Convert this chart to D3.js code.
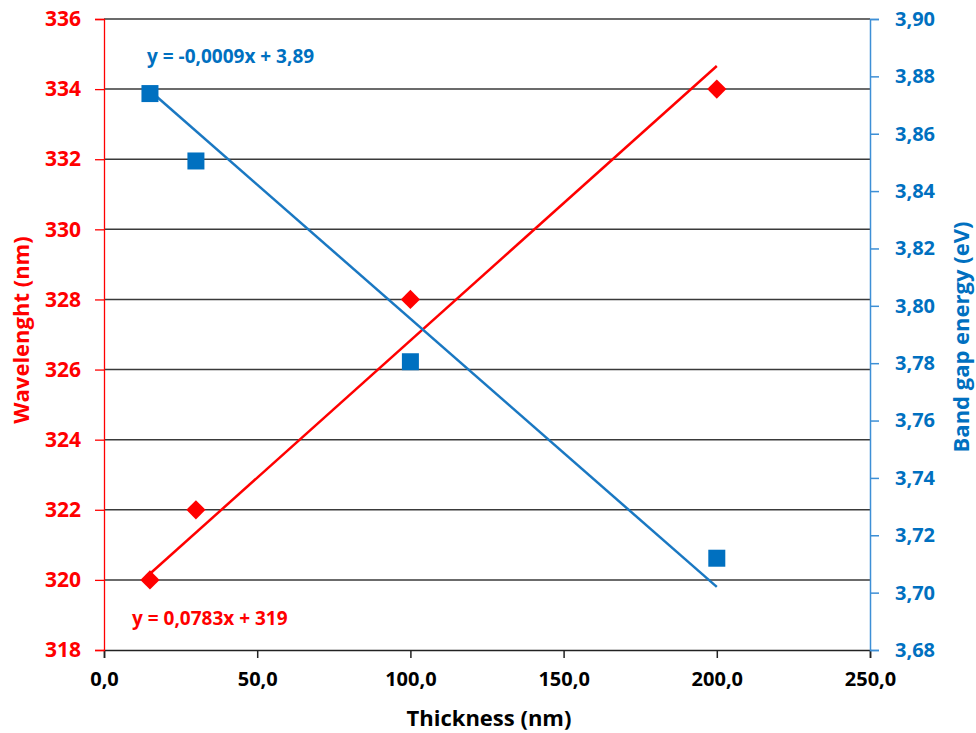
<!DOCTYPE html>
<html><head><meta charset="utf-8">
<script src="https://cdn.jsdelivr.net/npm/d3@7"></script>
<style>body{margin:0;background:#fff}svg{display:block}text{font-family:"Open Sans",sans-serif;font-weight:700}</style>
</head><body><svg id="c" width="976" height="733"></svg>
<script>
const thickness = [15, 30, 100, 200];
const wavelength = [320, 322, 328, 334];
const bandGap = [3.874, 3.8505, 3.7805, 3.712];
const waveTrend = {slope: 0.0783, intercept: 319};
const gapTrend = {slope: -0.000935, intercept: 3.889};
const xTicks = [0, 50, 100, 150, 200, 250];
const leftTicks = [318, 320, 322, 324, 326, 328, 330, 332, 334, 336];
const rightTicks = [3.68, 3.70, 3.72, 3.74, 3.76, 3.78, 3.80, 3.82, 3.84, 3.86, 3.88, 3.90];

const RED = "#FF0000", BLUE = "#0070C0";
const svg = d3.select("#c");
const L = 104, R = 870, T = 19, B = 650;
const x = d3.scaleLinear().domain([0, 250]).range([L, R]);
const yL = d3.scaleLinear().domain([318, 336]).range([B, T]);
const yR = d3.scaleLinear().domain([3.68, 3.90]).range([B, T]);
const fmt1 = d => d3.format(".1f")(d).replace(".", ",");
const fmt2 = d => d3.format(".2f")(d).replace(".", ",");

// gridlines
svg.append("g").selectAll("line").data(leftTicks.slice(1)).join("line")
  .attr("x1", L).attr("x2", R).attr("y1", d => yL(d)).attr("y2", d => yL(d))
  .attr("stroke", "#3a3a3a").attr("stroke-width", 1.5);

// x axis
const gx = svg.append("g").attr("transform", `translate(0,${B})`)
  .call(d3.axisBottom(x).tickValues(xTicks).tickFormat(fmt1).tickSizeOuter(0).tickSize(8).tickPadding(14));
gx.select(".domain").attr("stroke", "#222").attr("stroke-width", 1.5);
gx.selectAll(".tick line").attr("stroke", "#222").attr("stroke-width", 1.5);
gx.selectAll("text").attr("fill", "#000").style("font-size", "20px");

// left axis
const gl = svg.append("g").attr("transform", `translate(${L},0)`)
  .call(d3.axisLeft(yL).tickValues(leftTicks).tickFormat(d3.format("d")).tickSizeOuter(0).tickSize(9).tickPadding(14));
gl.select(".domain").attr("stroke", RED).attr("stroke-width", 1.3);
gl.selectAll(".tick line").attr("stroke", RED).attr("stroke-width", 1.3);
gl.selectAll("text").attr("fill", RED).style("font-size", "21px");

// right axis
const gr = svg.append("g").attr("transform", `translate(${R},0)`)
  .call(d3.axisRight(yR).tickValues(rightTicks).tickFormat(fmt2).tickSizeOuter(0).tickSize(9).tickPadding(16));
gr.select(".domain").attr("stroke", "#3d8fd6").attr("stroke-width", 1.5);
gr.selectAll(".tick line").attr("stroke", "#3d8fd6").attr("stroke-width", 1.5);
gr.selectAll("text").attr("fill", BLUE).style("font-size", "20px");

// trend lines
const x0 = d3.min(thickness), x1 = d3.max(thickness);
svg.append("line")
  .attr("x1", x(x0)).attr("y1", yL(waveTrend.intercept + waveTrend.slope * x0))
  .attr("x2", x(x1)).attr("y2", yL(waveTrend.intercept + waveTrend.slope * x1))
  .attr("stroke", RED).attr("stroke-width", 2.5);
svg.append("line")
  .attr("x1", x(x0)).attr("y1", yR(gapTrend.intercept + gapTrend.slope * x0))
  .attr("x2", x(x1)).attr("y2", yR(gapTrend.intercept + gapTrend.slope * x1))
  .attr("stroke", "#1a78c2").attr("stroke-width", 2.5);

// markers
svg.append("g").selectAll("path").data(thickness).join("path")
  .attr("transform", (d, i) => `translate(${x(d)},${yL(wavelength[i])}) rotate(45)`)
  .attr("d", "M-6.8,-6.8H6.8V6.8H-6.8Z").attr("fill", RED);
svg.append("g").selectAll("rect").data(thickness).join("rect")
  .attr("x", d => x(d) - 8.5).attr("y", (d, i) => yR(bandGap[i]) - 8.5)
  .attr("width", 17).attr("height", 17).attr("fill", BLUE);

// equations
svg.append("text").attr("x", 147).attr("y", 63).attr("fill", BLUE).style("font-size", "19px")
  .text("y = -0,0009x + 3,89");
svg.append("text").attr("x", 132).attr("y", 625).attr("fill", RED).style("font-size", "19px")
  .text("y = 0,0783x + 319");

// axis titles
svg.append("text").attr("transform", `translate(29,330) rotate(-90)`).attr("text-anchor", "middle")
  .attr("fill", RED).style("font-size", "22px").text("Wavelenght (nm)");
svg.append("text").attr("transform", `translate(969,337) rotate(-90)`).attr("text-anchor", "middle")
  .attr("fill", BLUE).style("font-size", "22px").text("Band gap energy (eV)");
svg.append("text").attr("x", 489).attr("y", 726).attr("text-anchor", "middle")
  .attr("fill", "#000").style("font-size", "22px").text("Thickness (nm)");
</script></body></html>
